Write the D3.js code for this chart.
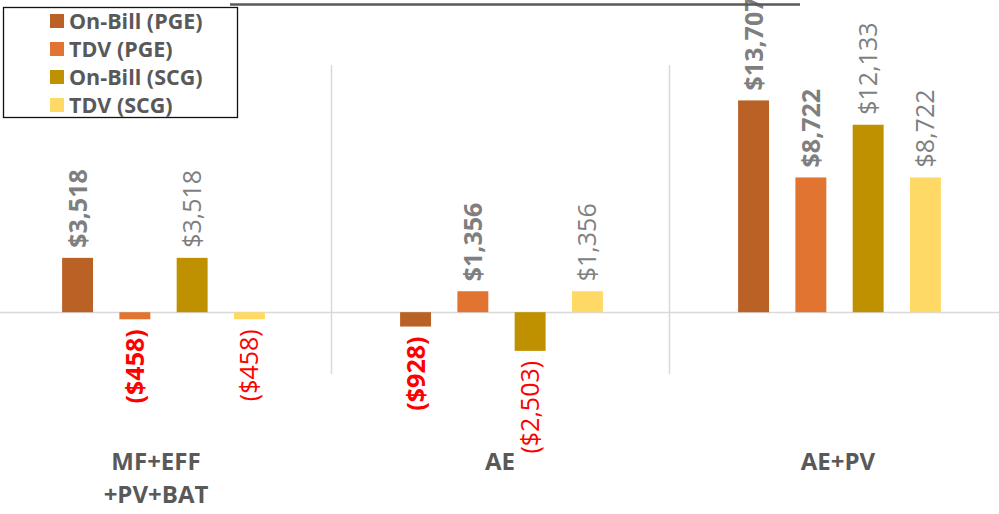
<!DOCTYPE html>
<html>
<head>
<meta charset="utf-8">
<script src="https://cdn.jsdelivr.net/npm/d3@7"></script>
<style>
  html, body { margin: 0; padding: 0; background: #fff; }
  svg { display: block; }
  text { font-family: "Open Sans", "Noto Sans", sans-serif; }
</style>
</head>
<body>
<svg id="chart" width="999" height="514"></svg>
<script>
// Scenario groups along the category axis (first entry wraps onto two lines)
const categories = ["MF+EFF +PV+BAT", "AE", "AE+PV"];
const categoryLines = [["MF+EFF", "+PV+BAT"], ["AE"], ["AE+PV"]];

// Series and their values per scenario (dollars)
const seriesNames = ["On-Bill (PGE)", "TDV (PGE)", "On-Bill (SCG)", "TDV (SCG)"];
const onBillPGE = [3518, -928, 13707];
const tdvPGE    = [-458, 1356, 8722];
const onBillSCG = [3518, -2503, 12133];
const tdvSCG    = [-458, 1356, 8722];
const seriesColors = ["#BA6125", "#E07430", "#BF9000", "#FFD966"];
const seriesBold = [true, true, false, false];

const seriesValues = [onBillPGE, tdvPGE, onBillSCG, tdvSCG];

const svg = d3.select("#chart");

const x0 = d3.scaleBand().domain(categories).range([-7, 1007]).paddingInner(0).paddingOuter(0);
const x1 = d3.scaleBand().domain(seriesNames).range([1.5, x0.bandwidth() + 1.5])
  .paddingInner(0.46).paddingOuter(1.18);
const y = d3.scaleLinear().domain([-4000, 16000]).range([374, 65]);

// Category separators
const bounds = categories.slice(1).map(c => x0(c));
svg.append("g").selectAll("line").data(bounds).join("line")
  .attr("x1", d => Math.round(d) + 0.5).attr("x2", d => Math.round(d) + 0.5)
  .attr("y1", y(16000)).attr("y2", y(-4000))
  .attr("stroke", "#d9d9d9").attr("stroke-width", 1.5);

// Zero baseline
svg.append("line")
  .attr("x1", 0).attr("x2", 999)
  .attr("y1", Math.round(y(0)) + 0.5).attr("y2", Math.round(y(0)) + 0.5)
  .attr("stroke", "#d9d9d9").attr("stroke-width", 1.5);

// Bars
const rows = [];
categories.forEach((c, ci) => {
  seriesNames.forEach((s, si) => {
    rows.push({ cat: c, series: s, si, value: seriesValues[si][ci] });
  });
});

svg.append("g").selectAll("rect").data(rows).join("rect")
  .attr("x", d => x0(d.cat) + x1(d.series))
  .attr("width", x1.bandwidth())
  .attr("y", d => y(Math.max(0, d.value)))
  .attr("height", d => Math.abs(y(d.value) - y(0)))
  .attr("fill", d => seriesColors[d.si]);

// Value labels, rotated
const fmt = d3.format("$,.0f");
const gap = 10;
svg.append("g").selectAll("text").data(rows).join("text")
  .attr("transform", d => {
    const cx = x0(d.cat) + x1(d.series) + x1.bandwidth() / 2;
    const yy = d.value >= 0 ? y(d.value) - gap : y(d.value) + gap;
    return `translate(${cx},${yy}) rotate(-90)`;
  })
  .attr("dy", "0.36em")
  .attr("text-anchor", d => d.value >= 0 ? "start" : "end")
  .attr("font-size", 25)
  .attr("font-weight", d => seriesBold[d.si] ? 700 : 400)
  .attr("fill", d => d.value >= 0 ? "#7f7f7f" : "#ff0000")
  .text(d => d.value >= 0 ? fmt(d.value) : "(" + fmt(-d.value) + ")");

// Category labels
const catG = svg.append("g");
categories.forEach((c, ci) => {
  const cx = x0(c) + x0.bandwidth() / 2 - (ci === 0 ? 6 : 0);
  const t = catG.append("text")
    .attr("x", cx)
    .attr("y", 470)
    .attr("text-anchor", "middle")
    .attr("font-size", 24)
    .attr("font-weight", 700)
    .attr("fill", "#595959");
  categoryLines[ci].forEach((line, li) => {
    t.append("tspan")
      .attr("x", cx)
      .attr("dy", li === 0 ? 0 : 33)
      .text(line);
  });
});

// Rule along the top edge
svg.append("line")
  .attr("x1", 230).attr("x2", 800).attr("y1", 4.5).attr("y2", 4.5)
  .attr("stroke", "#595959").attr("stroke-width", 2.5);

// Legend
const legend = svg.append("g");
legend.append("rect")
  .attr("x", 3.5).attr("y", 7.5).attr("width", 234).attr("height", 110)
  .attr("fill", "#fff").attr("stroke", "#111").attr("stroke-width", 1.3);
const item = legend.selectAll("g.item").data(seriesNames).join("g")
  .attr("class", "item")
  .attr("transform", (d, i) => `translate(0,${21 + i * 28})`);
item.append("rect")
  .attr("x", 50).attr("y", -7).attr("width", 14).attr("height", 14)
  .attr("fill", (d, i) => seriesColors[i]);
item.append("text")
  .attr("x", 69).attr("dy", "0.36em")
  .attr("font-size", 21.5).attr("font-weight", 700)
  .attr("fill", "#595959")
  .text(d => d);
</script>
</body>
</html>
